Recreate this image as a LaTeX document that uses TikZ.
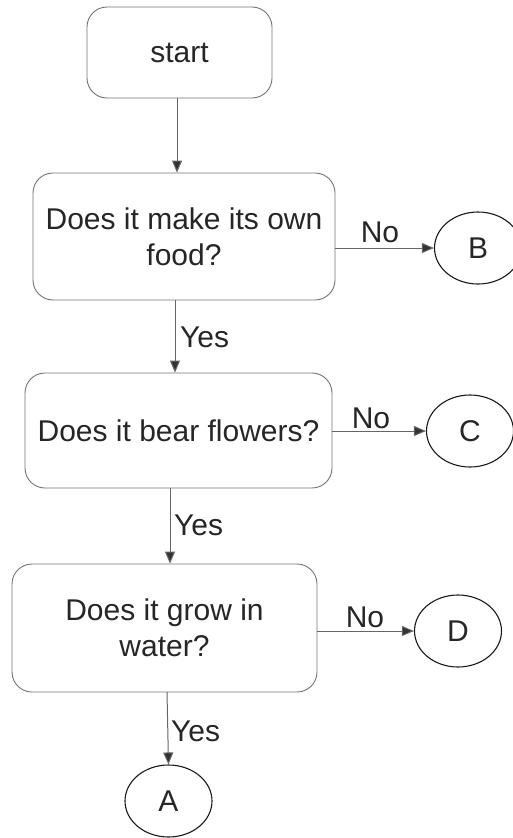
\documentclass[tikz,border=0pt]{standalone}
\usepackage{fontspec}
\setmainfont{Liberation Sans}
\usetikzlibrary{arrows.meta,shapes.geometric}
\begin{document}
\begin{tikzpicture}[x=1pt,y=-1pt,
  every node/.style={font=\fontsize{30}{36}\selectfont, text=black!85, inner sep=0pt},
  qbox/.style={draw=black!55, line width=0.9pt, rounded corners=20pt, align=center, rectangle},
  endnode/.style={draw=black!90, line width=1.1pt, ellipse, minimum width=87pt, minimum height=72pt},
  arr/.style={draw=black!60, line width=1pt, -{Triangle[length=12pt,width=10pt,fill=black!80]}},
  lbl/.style={}
]
\useasboundingbox (0,0) rectangle (512,838);
\node[qbox, minimum width=185pt, minimum height=91pt] (start) at (179.5,52.5) {\raisebox{-3pt}{start}};
\node[qbox, minimum width=302pt, minimum height=127pt] (q1) at (184,236.5) {\raisebox{-3pt}{Does it make its own}\\\raisebox{-3pt}{food?}};
\node[qbox, minimum width=307pt, minimum height=115pt] (q2) at (178.5,430.5) {Does it bear flowers?};
\node[qbox, minimum width=305pt, minimum height=128pt] (q3) at (164.5,628) {\raisebox{-2pt}{Does it grow in}\\\raisebox{-2pt}{water?}};
\node[endnode] (B) at (478,248) {B};
\node[endnode] (C) at (470,431) {C};
\node[endnode] (D) at (458,631) {D};
\node[endnode] (A) at (168.5,801) {A};
\coordinate (s1) at (177,98);
\coordinate (s2) at (175,300);
\coordinate (s3) at (170,488);
\coordinate (s4) at (167,692);
\draw[arr] (s1) -- (s1 |- q1.north);
\draw[arr] (s2) -- (s2 |- q2.north);
\draw[arr] (s3) -- (s3 |- q3.north);
\draw[arr] (s4) -- (A.north);
\draw[arr] (q1.east |- B) -- (B.west);
\draw[arr] (q2.east |- C) -- (C.west);
\draw[arr] (q3.east |- D) -- (D.west);
\node[lbl] (n1) at (380,232) {No};
\node[lbl] (n2) at (371,418) {No};
\node[lbl] (n3) at (365,617) {No};
\node[lbl, anchor=west] (y1) at (180,337) {Yes};
\node[lbl, anchor=west] (y2) at (174,525) {Yes};
\node[lbl, anchor=west] (y3) at (171,731) {Yes};
\end{tikzpicture}
\end{document}
